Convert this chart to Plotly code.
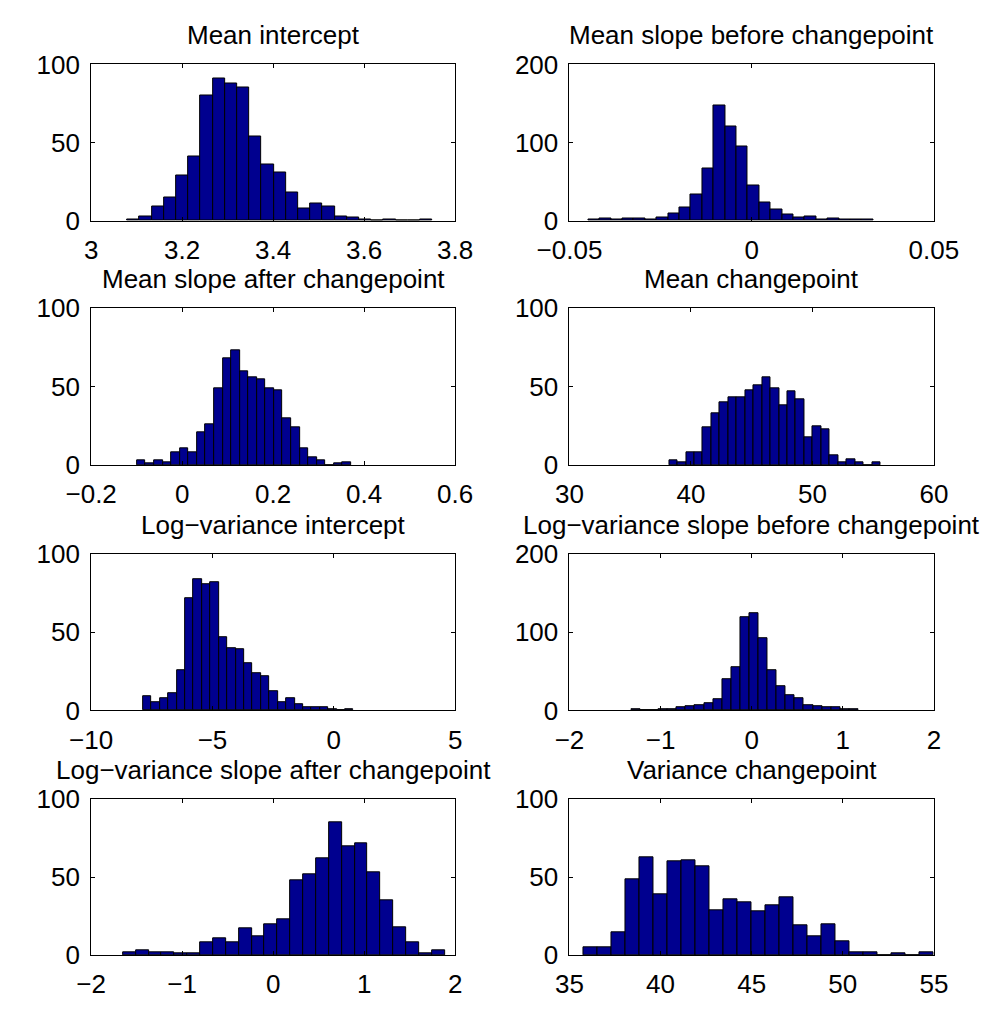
import numpy as np
import plotly.graph_objects as go

W, H = 1006, 1011

# ---------------- data ----------------
titles = [
    "Mean intercept",
    "Mean slope before changepoint",
    "Mean slope after changepoint",
    "Mean changepoint",
    "Log\u2212variance intercept",
    "Log\u2212variance slope before changepoint",
    "Log\u2212variance slope after changepoint",
    "Variance changepoint",
]

counts_mean_intercept = [1, 3, 9, 15, 29, 41, 80, 91, 88, 85, 54, 36, 31, 18, 8, 11, 9, 3, 2, 1, 0, 1, 0, 0, 1]
counts_mean_slope_before = [2, 3, 1, 3, 3, 1, 4, 9, 17, 33, 67, 147, 120, 95, 45, 23, 15, 8, 4, 6, 2, 3, 2, 2, 2]
counts_mean_slope_after = [3, 1, 3, 2, 8, 11, 8, 21, 26, 49, 68, 73, 60, 56, 55, 49, 48, 30, 24, 11, 5, 3, 0, 1, 2]
counts_mean_cp = [3, 2, 8, 8, 24, 33, 40, 43, 43, 48, 51, 56, 49, 38, 47, 42, 18, 25, 23, 6, 2, 4, 2, 0, 2]
counts_logvar_intercept = [9, 5, 8, 11, 26, 72, 84, 81, 82, 47, 40, 39, 30, 24, 22, 12, 5, 8, 4, 2, 2, 2, 1, 0, 1]
counts_logvar_slope_before = [1, 0, 0, 2, 2, 4, 5, 7, 9, 15, 40, 55, 119, 125, 93, 51, 31, 19, 16, 7, 5, 4, 4, 2, 1]
counts_logvar_slope_after = [2, 3, 2, 2, 1, 1, 8, 11, 8, 17, 12, 20, 23, 48, 52, 62, 85, 70, 72, 53, 35, 18, 8, 1, 3]
counts_var_cp = [5, 5, 15, 49, 63, 39, 60, 61, 57, 29, 36, 34, 28, 32, 37, 19, 12, 20, 9, 2, 2, 0, 1, 0, 2]

all_counts = [
    counts_mean_intercept, counts_mean_slope_before,
    counts_mean_slope_after, counts_mean_cp,
    counts_logvar_intercept, counts_logvar_slope_before,
    counts_logvar_slope_after, counts_var_cp,
]

# data range covered by the histogram bins (min, max of samples)
bin_ranges = [
    (3.0794, 3.7496),
    (-0.04483, 0.03336),
    (-0.0991, 0.3713),
    (38.20, 55.60),
    (-7.863, 0.816),
    (-1.321, 1.172),
    (-1.651, 1.886),
    (35.79, 55.0),
]

x_ranges = [(3, 3.8), (-0.05, 0.05), (-0.2, 0.6), (30, 60),
            (-10, 5), (-2, 2), (-2, 2), (35, 55)]
x_tickvals = [
    [3, 3.2, 3.4, 3.6, 3.8],
    [-0.05, 0, 0.05],
    [-0.2, 0, 0.2, 0.4, 0.6],
    [30, 40, 50, 60],
    [-10, -5, 0, 5],
    [-2, -1, 0, 1, 2],
    [-2, -1, 0, 1, 2],
    [35, 40, 45, 50, 55],
]
x_ticktext = [
    ["3", "3.2", "3.4", "3.6", "3.8"],
    ["\u22120.05", "0", "0.05"],
    ["\u22120.2", "0", "0.2", "0.4", "0.6"],
    ["30", "40", "50", "60"],
    ["\u221210", "\u22125", "0", "5"],
    ["\u22122", "\u22121", "0", "1", "2"],
    ["\u22122", "\u22121", "0", "1", "2"],
    ["35", "40", "45", "50", "55"],
]
y_max = [100, 200, 100, 100, 100, 200, 100, 100]

# ---------------- layout geometry (pixels) ----------------
col_px = [(61.7, 448.0), (569.3, 956.0)]
row_px = [(51.0, 212.0), (302.3, 464.0), (555.7, 716.7), (808.3, 969.0)]

FONT = "Liberation Sans, Arial, Helvetica, sans-serif"
FS = 26
BAR_COLOR = "rgb(0,0,143)"

fig = go.Figure()
layout = dict(
    width=W, height=H,
    margin=dict(l=0, r=0, t=0, b=0),
    paper_bgcolor="white", plot_bgcolor="white",
    showlegend=False,
    font=dict(family=FONT, size=FS, color="black"),
    bargap=0,
)
annotations = []

for i in range(8):
    r, c = divmod(i, 2)
    n = len(all_counts[i])
    lo, hi = bin_ranges[i]
    edges = np.linspace(lo, hi, n + 1)
    centers = (edges[:-1] + edges[1:]) / 2
    bw = (hi - lo) / n
    xa = "x" if i == 0 else f"x{i+1}"
    ya = "y" if i == 0 else f"y{i+1}"
    fig.add_trace(go.Bar(
        x=centers, y=all_counts[i], width=bw,
        marker=dict(color=BAR_COLOR, line=dict(color="black", width=1)),
        xaxis=xa, yaxis=ya, hoverinfo="skip",
    ))
    x0, x1 = col_px[c]
    t, b = row_px[r]
    xd = [x0 / W, x1 / W]
    yd = [1 - b / H, 1 - t / H]
    axis_common = dict(
        showline=True, linecolor="black", linewidth=1, mirror="allticks",
        ticks="inside", ticklen=4, tickwidth=1, tickcolor="black",
        showgrid=False, zeroline=False, fixedrange=True,
        tickfont=dict(family=FONT, size=FS, color="black"),
    )
    key_x = "xaxis" if i == 0 else f"xaxis{i+1}"
    key_y = "yaxis" if i == 0 else f"yaxis{i+1}"
    layout[key_x] = dict(
        domain=xd, anchor=ya, range=list(x_ranges[i]),
        tickmode="array", tickvals=x_tickvals[i], ticktext=x_ticktext[i],
        ticklabelstandoff=6,
        **axis_common,
    )
    layout[key_y] = dict(
        domain=yd, anchor=xa, range=[0, y_max[i]],
        tickmode="array",
        tickvals=[0, y_max[i] / 2, y_max[i]],
        ticktext=[str(v) for v in [0, y_max[i] // 2, y_max[i]]],
        ticklabelstandoff=5,
        **axis_common,
    )
    annotations.append(dict(
        text=titles[i], xref="paper", yref="paper",
        x=(xd[0] + xd[1]) / 2, y=yd[1], xanchor="center", yanchor="bottom",
        yshift=12, showarrow=False,
        font=dict(family=FONT, size=FS, color="black"),
    ))

layout["annotations"] = annotations
fig.update_layout(**layout)
fig.write_html("out.html")
